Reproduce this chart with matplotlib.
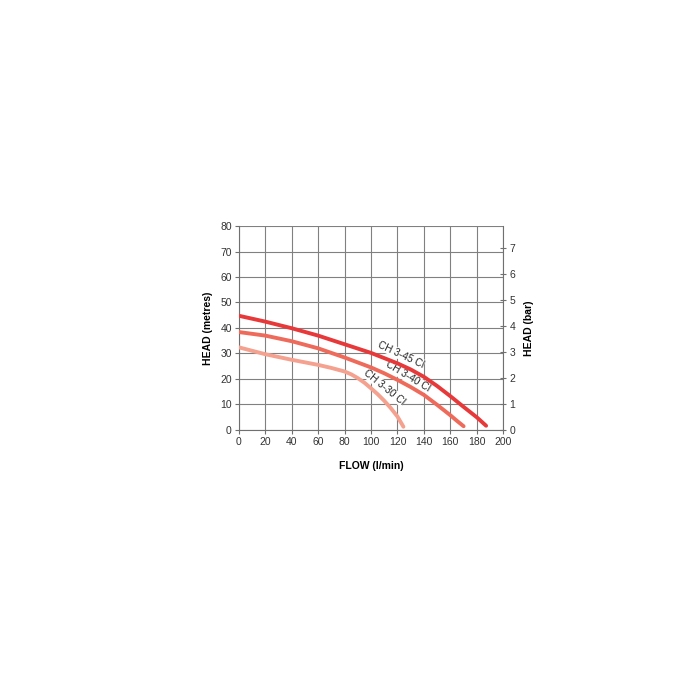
import numpy as np
import matplotlib.pyplot as plt

plt.rcParams['font.family'] = ['Liberation Sans', 'DejaVu Sans']

# pump curves: flow (l/min) vs head (metres)
flow_45 = [0, 20, 40, 60, 80, 100, 120, 130, 140, 150, 160, 170, 180, 187]
head_45 = [44.8, 42.5, 39.9, 37, 33.6, 30.2, 26.1, 23.7, 20.8, 17.2, 13.2, 9.0, 4.9, 1.6]

flow_40 = [0, 20, 40, 60, 80, 100, 110, 120, 130, 140, 150, 160, 165, 170]
head_40 = [38.4, 37, 34.8, 32, 28.4, 24.5, 22.2, 19.6, 16.8, 13.7, 9.8, 5.7, 3.5, 1.4]

flow_30 = [0, 20, 40, 60, 70, 80, 85, 90, 95, 100, 105, 110, 115, 120, 124.5]
head_30 = [32.4, 29.7, 27.5, 25.5, 24.3, 22.9, 21.8, 20.3, 18.5, 16.3, 14, 11.4, 8.5, 5.2, 1.2]

labels = ['CH 3-45 CI', 'CH 3-40 CI', 'CH 3-30 CI']
colors = ['#e8393a', '#ee6b5b', '#f5a18f']

x_ticks = np.arange(0, 201, 20)
y_ticks = np.arange(0, 81, 10)
bar_ticks = np.arange(0, 8)
m_per_bar = 10.197

fig = plt.figure(figsize=(7, 7), dpi=100)
ax = fig.add_axes([0.341, 0.386, 0.378, 0.291])

ax.plot(flow_45, head_45, color=colors[0], lw=2.8, solid_capstyle='round', solid_joinstyle='round', zorder=3)
ax.plot(flow_40, head_40, color=colors[1], lw=2.8, solid_capstyle='round', solid_joinstyle='round', zorder=3)
ax.plot(flow_30, head_30, color=colors[2], lw=2.8, solid_capstyle='round', solid_joinstyle='round', zorder=3)

# curve names along the lines, white box hides the grid behind them
box = dict(facecolor='white', edgecolor='none', pad=0.3)
ax.text(122.5, 29.6, labels[0], rotation=-25, ha='center', va='center', fontsize=7.2,
        color='#222222', bbox=box, zorder=2.5)
ax.text(128, 20.8, labels[1], rotation=-31, ha='center', va='center', fontsize=7.2,
        color='#222222', bbox=box, zorder=2.5)
ax.text(110, 16.8, labels[2], rotation=-39, ha='center', va='center', fontsize=7.2,
        color='#222222', bbox=box, zorder=2.5)

ax.set_xlim(0, 200)
ax.set_ylim(0, 80)
ax.set_xticks(x_ticks)
ax.set_yticks(y_ticks)
ax.grid(True, color='#808080', lw=0.8, zorder=1)
ax.set_axisbelow(True)
ax.tick_params(labelsize=7.5, colors='#333333', length=3, width=0.8, pad=2)
ax.tick_params(color='#707070')
ax.spines['top'].set_visible(False)
for s in ['left', 'bottom', 'right']:
    ax.spines[s].set_color('#707070')
    ax.spines[s].set_linewidth(0.8)

ax.set_xlabel('FLOW (l/min)', fontsize=7.5, fontweight='bold', labelpad=10)
ax.set_ylabel('HEAD (metres)', fontsize=7.5, fontweight='bold', labelpad=5)

ax2 = ax.twinx()
ax2.set_ylim(0, 80 / m_per_bar)
ax2.set_yticks(bar_ticks)
ax2.tick_params(labelsize=7.5, colors='#333333', length=5, width=0.8, direction='inout', pad=2)
ax2.tick_params(axis='y', color='#707070')
for s in ax2.spines.values():
    s.set_visible(False)
ax2.set_ylabel('HEAD (bar)', fontsize=7.5, fontweight='bold', labelpad=6)

fig.savefig('out.png', dpi=100)
